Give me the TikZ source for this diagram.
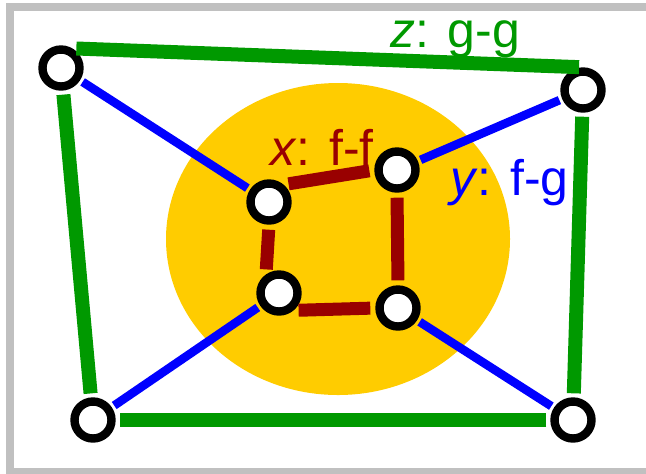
\documentclass[tikz,border=0pt]{standalone}
\usepackage{fontspec}
\setmainfont{Liberation Sans}
\usepackage{xcolor}
\definecolor{ggreen}{RGB}{0,153,0}
\definecolor{fred}{RGB}{153,0,0}
\definecolor{gold}{RGB}{255,204,0}
\definecolor{framegray}{RGB}{192,192,192}

\begin{document}
\begin{tikzpicture}[
    x=0.5pt, y=-0.5pt,
    every node/.style={font=\fontsize{25}{29}\selectfont},
    vertex/.style={circle, draw, line width=4.2pt, fill=white, minimum size=18.5pt, inner sep=0pt},
    gg/.style={draw=ggreen, line width=7pt, shorten <=2pt, shorten >=2pt},
    ff/.style={draw=fred, line width=6.5pt, shorten <=2.5pt, shorten >=2.5pt},
    fg/.style={draw=blue, line width=4.3pt, shorten <=1.5pt, shorten >=1.5pt},
    lbl/.style={anchor=base west, inner sep=0pt}
  ]
  \useasboundingbox (0,0) rectangle (646,473);
  \draw[framegray, line width=4pt] (10,7) rectangle (652,471.5);
  \fill[gold] (338,239) ellipse [x radius=86pt, y radius=78pt];

  \node[vertex] (g1) at (61,68) {};
  \node[vertex] (g2) at (583,90) {};
  \node[vertex] (g3) at (573,420) {};
  \node[vertex] (g4) at (93,420) {};
  \node[vertex] (f1) at (269,202) {};
  \node[vertex] (f2) at (397,170) {};
  \node[vertex] (f3) at (398,308) {};
  \node[vertex] (f4) at (279,293) {};

  \draw[gg] (g1.60) -- (g2.north);
  \draw[gg] (g2) -- (g3);
  \draw[gg] (g3) -- (g4);
  \draw[gg] (g4) -- (g1);

  \draw[ff] (f1.50) -- (f2.west);
  \draw[ff] (f2.south) -- (f3.north);
  \draw[ff] (f3.west) -- (f4.-50);
  \draw[ff] (f4.125) -- (f1.south);

  \draw[fg] (g1) -- (f1);
  \draw[fg] (g2) -- (f2);
  \draw[fg] (g3) -- (f3);
  \draw[fg] (g4) -- (f4);

  \node[lbl, text=ggreen] (zlbl) at (390,47) {\textit{z}: g-g};
  \node[lbl, text=fred] (xlbl) at (270,165) {\textit{x}: f-f};
  \node[lbl, text=blue] (ylbl) at (450,195) {\textit{y}: f-g};
\end{tikzpicture}
\end{document}
